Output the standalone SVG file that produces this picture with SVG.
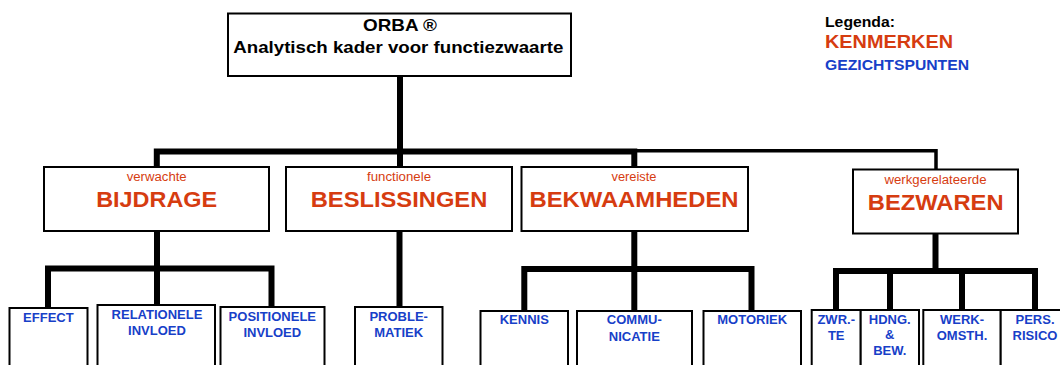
<svg xmlns="http://www.w3.org/2000/svg" width="1060" height="365" viewBox="0 0 1060 365">
<style>
.box{fill:#fff;stroke:#000;stroke-width:2}
.c{fill:none;stroke:#000;stroke-width:6;stroke-linejoin:miter}
.c4{fill:none;stroke:#000;stroke-width:3.5;stroke-linejoin:miter}
text{font-family:"Liberation Sans",Arial,Helvetica,sans-serif;text-anchor:middle}
.t{font-weight:bold;fill:#000;font-size:16.5px}
.s{fill:#d63c10;font-size:12.5px}
.k{fill:#d63c10;font-weight:bold;font-size:22.5px}
.g{fill:#1740c8;font-weight:bold;font-size:13px}
.lg{text-anchor:start;font-weight:bold}
</style>
<rect width="1060" height="365" fill="#fff"/>
<g id="connectors">
<path class="c" d="M400,76 V167"/>
<path class="c" d="M156.8,167 V151.5 H634.3 V167"/>
<path class="c4" d="M634.3,150.7 H936 V169"/>
<path class="c" d="M48,308 V268.5 H271.5 V307"/>
<path class="c" d="M157,231 V305"/>
<path class="c" d="M399.5,231 V307"/>
<path class="c" d="M524.3,311 V269 H751.5 V311"/>
<path class="c" d="M634.3,231 V311"/>
<path class="c" d="M836,310 V271 H1035 V310"/>
<path class="c" d="M935.5,234 V271"/>
<path class="c" d="M890,271 V310"/>
<path class="c" d="M962,271 V310"/>
</g>
<g id="root">
<rect class="box" x="228" y="13.5" width="343" height="62.5"/>
<text class="t" x="400" y="31" textLength="74" lengthAdjust="spacingAndGlyphs">ORBA ®</text>
<text class="t" x="398.3" y="53" textLength="330" lengthAdjust="spacingAndGlyphs">Analytisch kader voor functiezwaarte</text>
</g>
<g id="legend">
<text class="lg" x="825" y="27" font-size="14" fill="#000" textLength="70" lengthAdjust="spacingAndGlyphs">Legenda:</text>
<text class="lg" x="825" y="47.7" font-size="17.5" fill="#d63c10" textLength="128" lengthAdjust="spacingAndGlyphs">KENMERKEN</text>
<text class="lg" x="825" y="69.5" font-size="14" fill="#1740c8" textLength="144" lengthAdjust="spacingAndGlyphs">GEZICHTSPUNTEN</text>
</g>
<g id="bijdrage">
<rect class="box" x="44" y="167" width="225" height="64"/>
<text class="s" x="156.7" y="180.7" textLength="60" lengthAdjust="spacingAndGlyphs">verwachte</text>
<text class="k" x="156.7" y="207" textLength="121" lengthAdjust="spacingAndGlyphs">BIJDRAGE</text>
</g>
<g id="beslissingen">
<rect class="box" x="286" y="167" width="226" height="64"/>
<text class="s" x="399" y="180.7" textLength="64" lengthAdjust="spacingAndGlyphs">functionele</text>
<text class="k" x="399" y="207" textLength="176.5" lengthAdjust="spacingAndGlyphs">BESLISSINGEN</text>
</g>
<g id="bekwaamheden">
<rect class="box" x="521.5" y="167" width="226.5" height="64"/>
<text class="s" x="634" y="180.7" textLength="45" lengthAdjust="spacingAndGlyphs">vereiste</text>
<text class="k" x="634" y="207" textLength="209" lengthAdjust="spacingAndGlyphs">BEKWAAMHEDEN</text>
</g>
<g id="bezwaren">
<rect class="box" x="853" y="169.5" width="165" height="64"/>
<text class="s" x="935.5" y="183.5" textLength="102" lengthAdjust="spacingAndGlyphs">werkgerelateerde</text>
<text class="k" x="935.7" y="210" textLength="135.7" lengthAdjust="spacingAndGlyphs">BEZWAREN</text>
</g>
<g id="effect">
<rect class="box" x="9.5" y="308" width="78" height="70"/>
<text class="g" x="48.4" y="322">EFFECT</text>
</g>
<g id="relationele">
<rect class="box" x="97.5" y="305" width="117.5" height="73"/>
<text class="g" x="157" y="318.5">RELATIONELE</text>
<text class="g" x="157" y="335">INVLOED</text>
</g>
<g id="positionele">
<rect class="box" x="220.5" y="307" width="104" height="71"/>
<text class="g" x="272.3" y="321">POSITIONELE</text>
<text class="g" x="272.3" y="337">INVLOED</text>
</g>
<g id="problematiek">
<rect class="box" x="355" y="307" width="87.5" height="71"/>
<text class="g" x="398.7" y="321">PROBLE-</text>
<text class="g" x="398.7" y="337">MATIEK</text>
</g>
<g id="kennis">
<rect class="box" x="480.5" y="311" width="87.5" height="67"/>
<text class="g" x="524.3" y="324.3">KENNIS</text>
</g>
<g id="communicatie">
<rect class="box" x="577" y="311" width="115" height="67"/>
<text class="g" x="634.3" y="324.3">COMMU-</text>
<text class="g" x="634.3" y="340.7">NICATIE</text>
</g>
<g id="motoriek">
<rect class="box" x="703.5" y="311" width="97.5" height="67"/>
<text class="g" x="752.2" y="324.3">MOTORIEK</text>
</g>
<g id="zwaarte">
<rect class="box" x="811.7" y="310" width="49" height="68"/>
<text class="g" x="836.2" y="324">ZWR.-</text>
<text class="g" x="836.2" y="340">TE</text>
</g>
<g id="hantering">
<rect class="box" x="860.7" y="310" width="58.3" height="68"/>
<text class="g" x="889.8" y="323.5">HDNG.</text>
<text class="g" x="889.8" y="339">&amp;</text>
<text class="g" x="889.8" y="354.5">BEW.</text>
</g>
<g id="werkomstandigheden">
<rect class="box" x="923.3" y="310" width="77.4" height="68"/>
<text class="g" x="962" y="324">WERK-</text>
<text class="g" x="962" y="340">OMSTH.</text>
</g>
<g id="persoonlijke-risico">
<rect class="box" x="1000.7" y="310" width="70" height="68"/>
<text class="g" x="1035" y="324">PERS.</text>
<text class="g" x="1035" y="340">RISICO</text>
</g>
</svg>
